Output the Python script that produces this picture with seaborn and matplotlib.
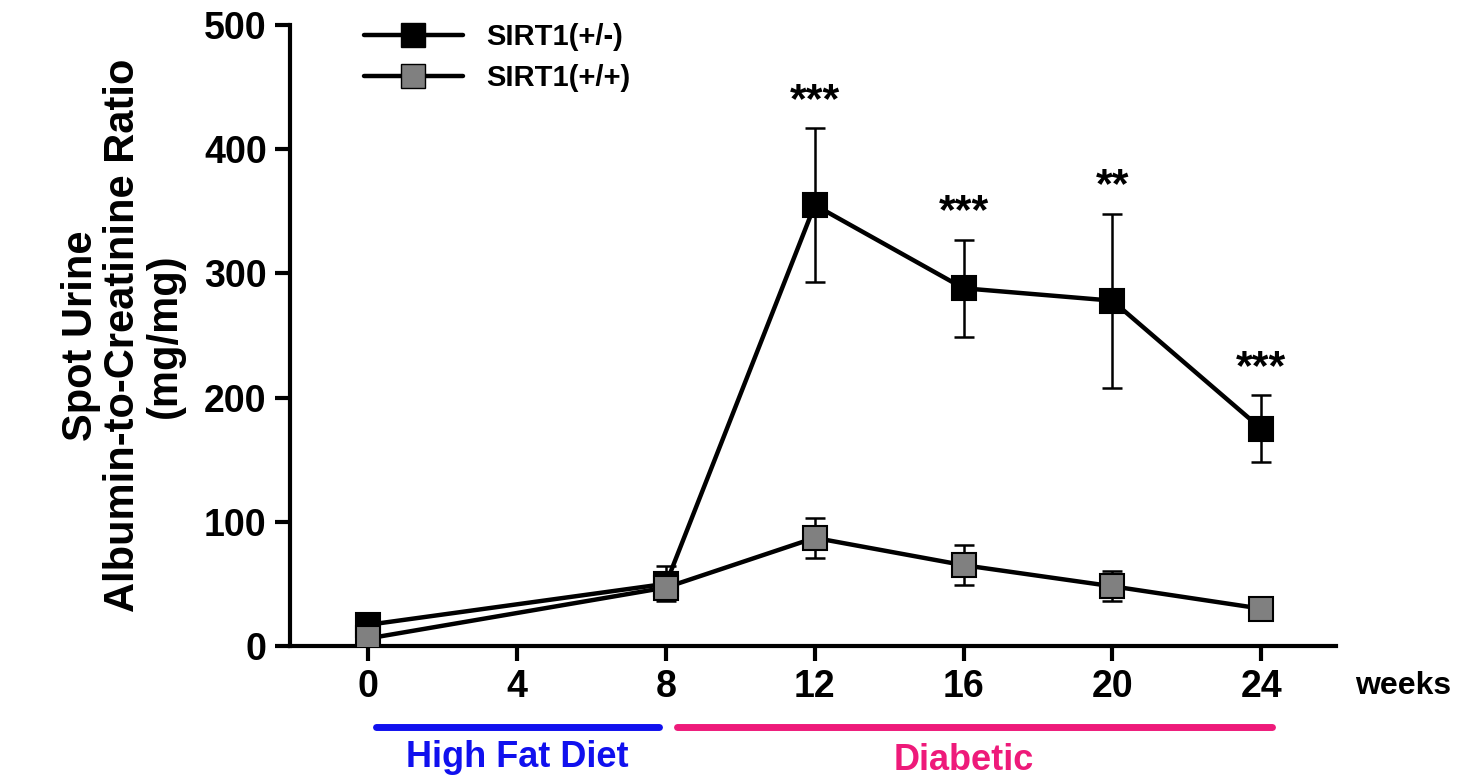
import numpy as np
import pandas as pd
import matplotlib
matplotlib.use("Agg")
import matplotlib.pyplot as plt
import seaborn as sns
from matplotlib.lines import Line2D

weeks = [0, 8, 12, 16, 20, 24]
het_mean = [17, 50, 355, 288, 278, 175]
het_err = [6, 14, 62, 39, 70, 27]
wt_mean = [6, 47, 87, 65, 48, 30]
wt_err = [3, 9, 16, 16, 12, 4]
stars = ["", "", "***", "***", "**", "***"]
groups = ["SIRT1(+/-)", "SIRT1(+/+)"]
colors = ["#000000", "#808080"]

df = pd.DataFrame({
    "week": weeks * 2,
    "acr": het_mean + wt_mean,
    "err": het_err + wt_err,
    "group": [groups[0]] * len(weeks) + [groups[1]] * len(weeks),
})

sns.set_style("ticks")
plt.rcParams['font.family'] = ['Liberation Sans', 'DejaVu Sans']
plt.rcParams['font.weight'] = 'bold'
for k in ["text.color", "axes.labelcolor", "xtick.color", "ytick.color", "axes.edgecolor"]:
    plt.rcParams[k] = "black"

fig = plt.figure(figsize=(14.66, 7.81), dpi=100)
ax = fig.add_axes([0.198, 0.173, 0.713, 0.795])

# error bars first so markers sit on top
for g in groups:
    sub = df[df.group == g]
    ax.errorbar(sub.week, sub.acr, yerr=sub.err, fmt="none", ecolor="black",
                elinewidth=1.8, capsize=7, capthick=1.8, zorder=2)

n_before = len(ax.lines)
sns.lineplot(data=df, x="week", y="acr", hue="group", palette=colors,
             marker="s", markersize=17, markeredgecolor="black", markeredgewidth=1.5,
             linewidth=3.2, ax=ax, legend=False)
for ln, c in zip(ax.lines[n_before:], colors):
    ln.set_color("black")
    ln.set_markerfacecolor(c)
    ln.set_markeredgecolor("black")
    ln.set_zorder(3)

for w, m, e, s in zip(weeks, het_mean, het_err, stars):
    if s:
        ax.text(w, m + e + 6, s, ha="center", va="bottom", fontsize=31, fontweight="bold")

handles = [Line2D([0], [0], color="black", lw=3.2, marker="s", markersize=17,
                  markerfacecolor=c, markeredgecolor="black") for c in colors]
ax.legend(handles, groups, loc="upper left", bbox_to_anchor=(0.045, 1.045), frameon=False,
          prop={"size": 21, "weight": "bold"}, handlelength=3.4, labelspacing=0.45)

ax.set_xlim(-2.1, 26)
ax.set_ylim(0, 500)
ax.set_xticks([0, 4, 8, 12, 16, 20, 24])
ax.set_yticks([0, 100, 200, 300, 400, 500])
ax.tick_params(axis="both", width=3, length=11, labelsize=27, pad=6)
for lab in ax.get_xticklabels() + ax.get_yticklabels():
    lab.set_fontweight("heavy")
for sp in ["left", "bottom"]:
    ax.spines[sp].set_linewidth(3)
sns.despine(ax=ax)
ax.set_xlabel("")
ax.set_ylabel("Spot Urine\nAlbumin-to-Creatinine Ratio\n(mg/mg)", fontsize=30,
              fontweight="bold", labelpad=14, linespacing=1.05)

ax.text(1.065, -0.065, "weeks", transform=ax.transAxes, ha="center", va="center",
        fontsize=23, fontweight="bold")

# phase bars below axis
trans = ax.get_xaxis_transform()
ax.plot([0.2, 7.8], [-0.13, -0.13], color="#1010ee", lw=5, solid_capstyle="round",
        transform=trans, clip_on=False)
ax.plot([8.3, 24.3], [-0.13, -0.13], color="#ee1a7a", lw=5, solid_capstyle="round",
        transform=trans, clip_on=False)
ax.text(4.0, -0.18, "High Fat Diet", transform=trans, ha="center", va="center",
        fontsize=26, fontweight="bold", color="#1010ee")
ax.text(16.0, -0.185, "Diabetic", transform=trans, ha="center", va="center",
        fontsize=26, fontweight="bold", color="#ee1a7a")

fig.savefig("out.png", dpi=100)
